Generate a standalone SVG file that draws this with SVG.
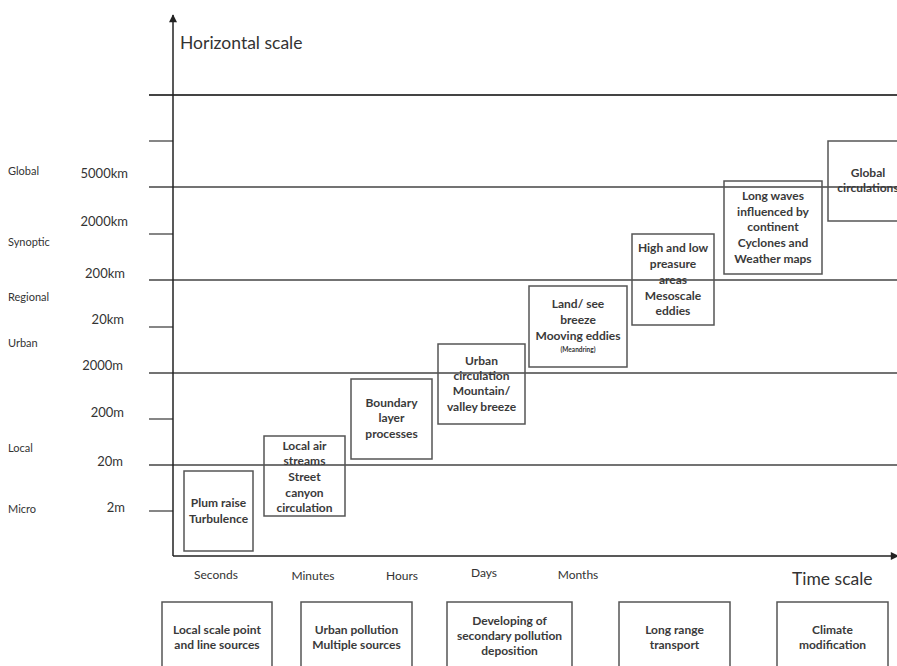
<svg xmlns="http://www.w3.org/2000/svg" width="897" height="666" viewBox="0 0 897 666">
<style>
text{font-family:Lato,"Open Sans","Liberation Sans",sans-serif;fill:#333}
.lab{font-size:11px}
.val{font-size:13px;text-anchor:end}
.tm{font-size:12px;text-anchor:middle}
.big{font-size:17.5px}
.bx{fill:none;stroke:#555;stroke-width:1.5}
.bt{font-size:12px;font-weight:bold;text-anchor:middle;fill:#3a3a3a}
.sm{font-size:6.5px;font-weight:bold;text-anchor:middle}
.grid{stroke:#444;stroke-width:1.3}
.axis{stroke:#222;stroke-width:1.5;fill:none}
</style>
<defs>
<marker id="ah" viewBox="0 0 10 10" refX="9" refY="5" markerWidth="12" markerHeight="8" orient="auto" markerUnits="userSpaceOnUse"><path d="M0,0 L10,5 L0,10 z" fill="#222"/></marker>
</defs>
<rect width="897" height="666" fill="#fff"/>
<g id="grid">
<line class="grid" x1="149" y1="95" x2="897" y2="95" style="stroke-width:2.2"/>
<line class="grid" x1="149" y1="187" x2="897" y2="187"/>
<line class="grid" x1="149" y1="280" x2="897" y2="280"/>
<line class="grid" x1="149" y1="373" x2="897" y2="373"/>
<line class="grid" x1="149" y1="465" x2="897" y2="465"/>
<line class="grid" x1="149" y1="141" x2="173" y2="141"/>
<line class="grid" x1="149" y1="234" x2="173" y2="234"/>
<line class="grid" x1="149" y1="327" x2="173" y2="327"/>
<line class="grid" x1="149" y1="419" x2="173" y2="419"/>
<line class="grid" x1="149" y1="511" x2="173" y2="511"/>
</g>
<g id="connectors">
<path class="axis" d="M173,556 L173,15" marker-end="url(#ah)"/>
<path class="axis" d="M173,556 L898,556" marker-end="url(#ah)"/>
</g>
<g id="labels">
<text class="big" x="180" y="49">Horizontal scale</text>
<text class="big" x="792" y="585">Time scale</text>
<text class="lab" x="8" y="175">Global</text>
<text class="lab" x="8" y="246">Synoptic</text>
<text class="lab" x="8" y="301">Regional</text>
<text class="lab" x="8" y="347">Urban</text>
<text class="lab" x="8" y="452">Local</text>
<text class="lab" x="8" y="513">Micro</text>
<text class="val" x="128" y="178">5000km</text>
<text class="val" x="128" y="226">2000km</text>
<text class="val" x="125" y="278">200km</text>
<text class="val" x="124" y="324">20km</text>
<text class="val" x="123" y="370">2000m</text>
<text class="val" x="124" y="417">200m</text>
<text class="val" x="123" y="466">20m</text>
<text class="val" x="125" y="512">2m</text>
<text class="tm" x="216" y="579">Seconds</text>
<text class="tm" x="313" y="580">Minutes</text>
<text class="tm" x="402" y="580">Hours</text>
<text class="tm" x="484" y="577">Days</text>
<text class="tm" x="578" y="579">Months</text>
</g>
<g id="n1"><rect class="bx" x="184" y="471" width="69" height="80"/>
<text class="bt" x="218.5" y="507">Plum raise</text><text class="bt" x="218.5" y="523">Turbulence</text></g>
<g id="n2"><rect class="bx" x="264" y="436" width="81" height="80"/>
<text class="bt" x="304.5" y="450">Local air</text><text class="bt" x="304.5" y="465">streams</text><text class="bt" x="304.5" y="481">Street</text><text class="bt" x="304.5" y="497">canyon</text><text class="bt" x="304.5" y="512">circulation</text></g>
<g id="n3"><rect class="bx" x="351" y="379" width="81" height="80"/>
<text class="bt" x="391.5" y="407">Boundary</text><text class="bt" x="391.5" y="422">layer</text><text class="bt" x="391.5" y="438">processes</text></g>
<g id="n4"><rect class="bx" x="438" y="344" width="87" height="80"/>
<text class="bt" x="481.5" y="365">Urban</text><text class="bt" x="481.5" y="380">circulation</text><text class="bt" x="481.5" y="395">Mountain/</text><text class="bt" x="481.5" y="411">valley breeze</text></g>
<g id="n5"><rect class="bx" x="529" y="286" width="98" height="81"/>
<text class="bt" x="578" y="308">Land/ see</text><text class="bt" x="578" y="324">breeze</text><text class="bt" x="578" y="340">Mooving eddies</text><text class="sm" x="578" y="352">(Meandring)</text></g>
<g id="n6"><rect class="bx" x="632" y="234" width="82" height="91"/>
<text class="bt" x="673" y="252">High and low</text><text class="bt" x="673" y="268">preasure</text><text class="bt" x="673" y="284">areas</text><text class="bt" x="673" y="300">Mesoscale</text><text class="bt" x="673" y="315">eddies</text></g>
<g id="n7"><rect class="bx" x="724" y="181" width="98" height="93"/>
<text class="bt" x="773" y="200">Long waves</text><text class="bt" x="773" y="216">influenced by</text><text class="bt" x="773" y="231">continent</text><text class="bt" x="773" y="247">Cyclones and</text><text class="bt" x="773" y="263">Weather maps</text></g>
<g id="n8"><rect class="bx" x="828" y="141" width="80" height="80"/>
<text class="bt" x="868" y="177">Global</text><text class="bt" x="868" y="192">circulations</text></g>
<g id="b1"><rect class="bx" x="162" y="602" width="110" height="80"/>
<text class="bt" x="217" y="634">Local scale point</text><text class="bt" x="217" y="649">and line sources</text></g>
<g id="b2"><rect class="bx" x="301" y="602" width="111" height="80"/>
<text class="bt" x="356.5" y="634">Urban pollution</text><text class="bt" x="356.5" y="649">Multiple sources</text></g>
<g id="b3"><rect class="bx" x="447" y="602" width="125" height="80"/>
<text class="bt" x="509.5" y="625">Developing of</text><text class="bt" x="509.5" y="640">secondary pollution</text><text class="bt" x="509.5" y="655">deposition</text></g>
<g id="b4"><rect class="bx" x="619" y="602" width="111" height="80"/>
<text class="bt" x="674.5" y="634">Long range</text><text class="bt" x="674.5" y="649">transport</text></g>
<g id="b5"><rect class="bx" x="777" y="602" width="111" height="80"/>
<text class="bt" x="832.5" y="634">Climate</text><text class="bt" x="832.5" y="649">modification</text></g>
</svg>
